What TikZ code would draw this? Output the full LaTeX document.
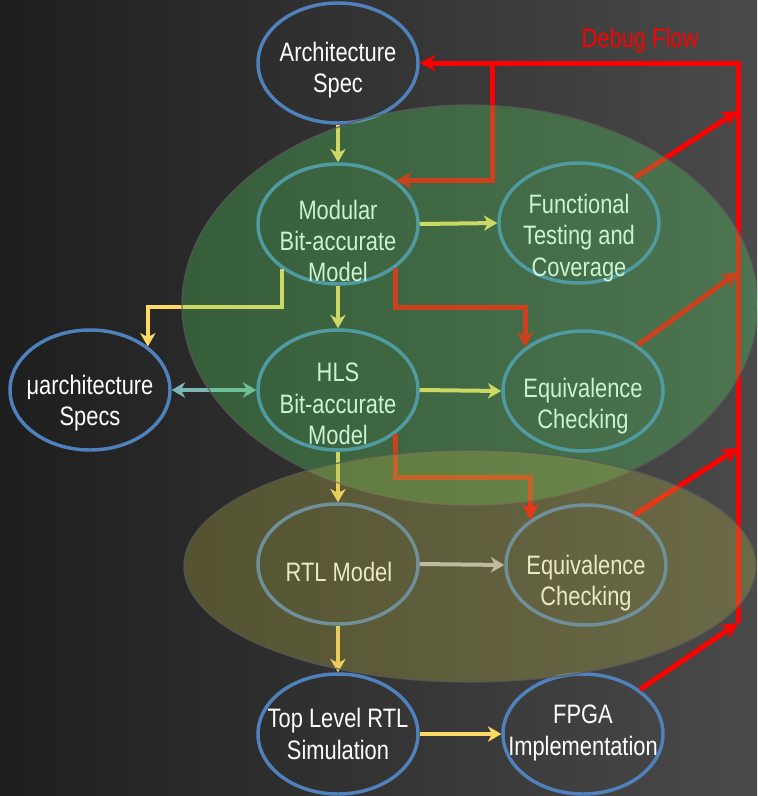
\documentclass[tikz,border=0pt]{standalone}
\usepackage{fontspec}
\setmainfont[FakeStretch=0.82]{Liberation Sans}
\usetikzlibrary{arrows.meta,shapes.geometric}

\definecolor{bgdark}{RGB}{30,30,30}
\definecolor{bglight}{RGB}{74,74,74}
\definecolor{stageblue}{RGB}{79,129,189}
\definecolor{flowyellow}{RGB}{255,217,102}
\definecolor{specteal}{RGB}{125,180,180}
\definecolor{rtlgray}{RGB}{195,190,200}
\definecolor{debugred}{RGB}{255,0,0}
\definecolor{zonegreen}{RGB}{85,218,98}
\definecolor{zoneolive}{RGB}{185,181,71}
\definecolor{zoneedge}{RGB}{88,88,88}

\begin{document}
\begin{tikzpicture}[x=0.75pt,y=-0.75pt,
  stage/.style={ellipse, draw=stageblue, line width=2.6pt,
    minimum width=120pt, minimum height=90pt, inner sep=0pt},
  stagetext/.style={text=white, align=center, inner sep=0pt,
    font=\fontsize{20pt}{23.5pt}\selectfont},
  flow/.style={draw=flowyellow, line width=3pt,
    -{Stealth[length=10pt,width=11.5pt,inset=3pt]}},
  speclink/.style={draw=specteal, line width=3.2pt,
    {Stealth[length=10pt,width=11.5pt,inset=3pt]}-{Stealth[length=10pt,width=11.5pt,inset=3pt]}},
  debug/.style={draw=debugred, line width=3.75pt, line join=miter,
    -{Stealth[length=12pt,width=12.5pt,inset=4pt]}},
  zone/.style={draw=zoneedge, draw opacity=0.8, line width=1pt, fill opacity=0.3}
]
\useasboundingbox (0,0) rectangle (757,796);
\clip (0,0) rectangle (757,796);

% backdrop
\shade[left color=bgdark, right color=bglight] (0,0) rectangle (757,796);

% design stages
\node[stage] (arch)  at (338,63)  {};
\node[stage] (mod)   at (338,224) {};
\node[stage] (func)  at (579,223) {};
\node[stage] (uarch) at (90,390)  {};
\node[stage] (hls)   at (338,390) {};
\node[stage] (eq1)   at (583,391) {};
\node[stage] (rtl)   at (338,564) {};
\node[stage] (eq2)   at (586,565) {};
\node[stage] (top)   at (338,734) {};
\node[stage] (fpga)  at (583,734) {};

\node[stagetext] (arch-t)  at (338,70)  {Architecture\\Spec};
\node[stagetext] (mod-t)   at (338,241) {Modular\\Bit-accurate\\Model};
\node[stagetext] (func-t)  at (579,238) {Functional\\Testing and\\Coverage};
\node[stagetext] (uarch-t) at (90,403)  {μarchitecture\\Specs};
\node[stagetext] (hls-t)   at (338,404) {HLS\\Bit-accurate\\Model};
\node[stagetext] (eq1-t)   at (583,406) {Equivalence\\Checking};
\node[stagetext] (rtl-t)   at (339,572) {RTL Model};
\node[stagetext] (eq2-t)   at (586,583) {Equivalence\\Checking};
\node[stagetext] (top-t)   at (338,734) {Top Level RTL\\Simulation};
\node[stagetext] (fpga-t)  at (583,733) {FPGA\\Implementation};
\node[stagetext, text=debugred] (debug-t) at (640,41) {Debug Flow};

% routing levels and debug bus points
\coordinate (lvlA) at (0,307);
\coordinate (lvlB) at (0,477);
\coordinate (busTop) at (738,63);
\coordinate (busBot) at (738,623);
\coordinate (branch) at (492,63);
\coordinate (tap1) at (738,111);
\coordinate (tap2) at (738,272);
\coordinate (tap3) at (738,448);

% design flow
\draw[flow] (arch.south) -- (mod.north);
\draw[flow] (mod.east) -- (func.west);
\draw[flow] (mod.south) -- (hls.north);
\draw[flow] (mod.-141) -- (mod.-141 |- lvlA) -| (uarch.37);
\draw[speclink] (uarch.east) -- (hls.west);
\draw[flow] (hls.east) -- (eq1.west);
\draw[flow] (hls.south) -- (rtl.north);
\draw[flow, draw=rtlgray] (rtl.east) -- (eq2.west);
\draw[flow] (rtl.south) -- (top.north);
\draw[flow] (top.east) -- (fpga.west);

% debug flow
\draw[debug] (busBot) -- (busTop) -- (arch.east);
\draw[debug] (branch) |- (mod.37);
\draw[debug] (func.39) -- (tap1);
\draw[debug] (eq1.40) -- (tap2);
\draw[debug] (eq2.46) -- (tap3);
\draw[debug] (fpga.38) -- (busBot);
\draw[debug] (mod.-37) -- (mod.-37 |- lvlA) -| (eq1.143);
\draw[debug] (hls.-37) -- (hls.-37 |- lvlB) -| (eq2.141);

% verification zones
\draw[zone, fill=zonegreen] (470,305) ellipse [x radius=288, y radius=200];
\draw[zone, fill=zoneolive] (470,566) ellipse [x radius=286, y radius=116];
\end{tikzpicture}
\end{document}
